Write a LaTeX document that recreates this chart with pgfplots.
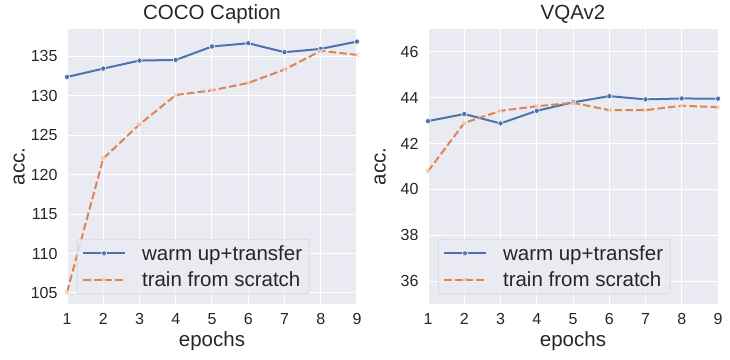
\documentclass[border=0pt]{standalone}
\usepackage{fontspec}
\setmainfont{Liberation Sans}
\usepackage{pgfplots}
\pgfplotsset{compat=1.18}
\definecolor{sbblue}{HTML}{4C72B0}
\definecolor{sborange}{HTML}{DD8452}
\definecolor{sbbg}{HTML}{EAEAF2}
\definecolor{sbtext}{HTML}{262626}

\pgfplotstableread{
x warm scratch
1 132.37 105.1
2 133.43 122.04
3 134.45 126.36
4 134.53 130.08
5 136.23 130.68
6 136.65 131.61
7 135.51 133.31
8 135.93 135.68
9 136.86 135.17
}\coco

\pgfplotstableread{
x warm scratch
1 42.98 40.79
2 43.29 42.90
3 42.88 43.43
4 43.43 43.63
5 43.80 43.78
6 44.07 43.46
7 43.93 43.46
8 43.97 43.65
9 43.96 43.59
}\vqa

\pgfplotsset{sbstyle/.style={
 scale only axis, width=290pt, height=275pt,
 axis background/.style={fill=sbbg},
 axis line style={draw=none},
 grid=major, major grid style={white, line width=1pt},
 tick style={draw=none},
 xmin=1, xmax=9, xtick={1,...,9},
 ticklabel style={font=\fontsize{16}{19}\selectfont, text=sbtext},
 xticklabel style={yshift=-6pt},
 yticklabel style={xshift=-6pt},
 /pgf/number format/assume math mode=true,
 label style={font=\fontsize{20.5}{24}\selectfont, text=sbtext},
 title style={font=\fontsize{20.5}{24}\selectfont, text=sbtext, yshift=-4pt},
 xlabel=epochs, ylabel=acc.,
 xlabel style={at={(axis description cs:0.5,-0.137)}, anchor=center},
 ylabel style={at={(axis description cs:-0.165,0.5)}, anchor=center},
 legend style={at={(axis description cs:0.034,0.036)}, anchor=south west,
   fill=sbbg, fill opacity=0.8, text opacity=1, draw=black!20, rounded corners=3pt,
   font=\fontsize{20.5}{24}\selectfont, text=sbtext, inner xsep=5pt, inner ysep=5pt,
   row sep=8pt, column sep=14pt, nodes={inner ysep=1pt}},
 legend cell align=left,
 legend image code/.code={
   \draw[mark repeat=2, mark phase=2, #1] plot coordinates {(0pt,0pt) (21pt,0pt) (42pt,0pt)};},
 warm/.style={sbblue, line width=2pt, mark=*, mark size=2.6pt, mark options={solid, fill=sbblue, draw=white, line width=0.5pt}},
 scratch/.style={sborange, line width=2pt, dash pattern=on 7.5pt off 3.2pt, mark=x, mark size=2.6pt, mark options={solid, draw=white!60!sborange, line width=1.2pt}},
}}

\begin{document}
\begin{tikzpicture}
\path[use as bounding box] (0,0) rectangle (730pt,359pt);
\begin{axis}[sbstyle, at={(67pt,55pt)}, anchor=south west,
  title={COCO Caption}, ymin=103.6, ymax=138.45, ytick={105,110,...,135}]
\addplot[warm] table[x=x,y=warm]{\coco};
\addlegendentry{warm up+transfer}
\addplot[scratch] table[x=x,y=scratch]{\coco};
\addlegendentry{train from scratch}
\end{axis}
\begin{axis}[sbstyle, at={(428pt,55pt)}, anchor=south west,
  title={VQAv2}, ymin=35, ymax=47, ytick={36,38,...,46}]
\addplot[warm] table[x=x,y=warm]{\vqa};
\addlegendentry{warm up+transfer}
\addplot[scratch] table[x=x,y=scratch]{\vqa};
\addlegendentry{train from scratch}
\end{axis}
\end{tikzpicture}
\end{document}
